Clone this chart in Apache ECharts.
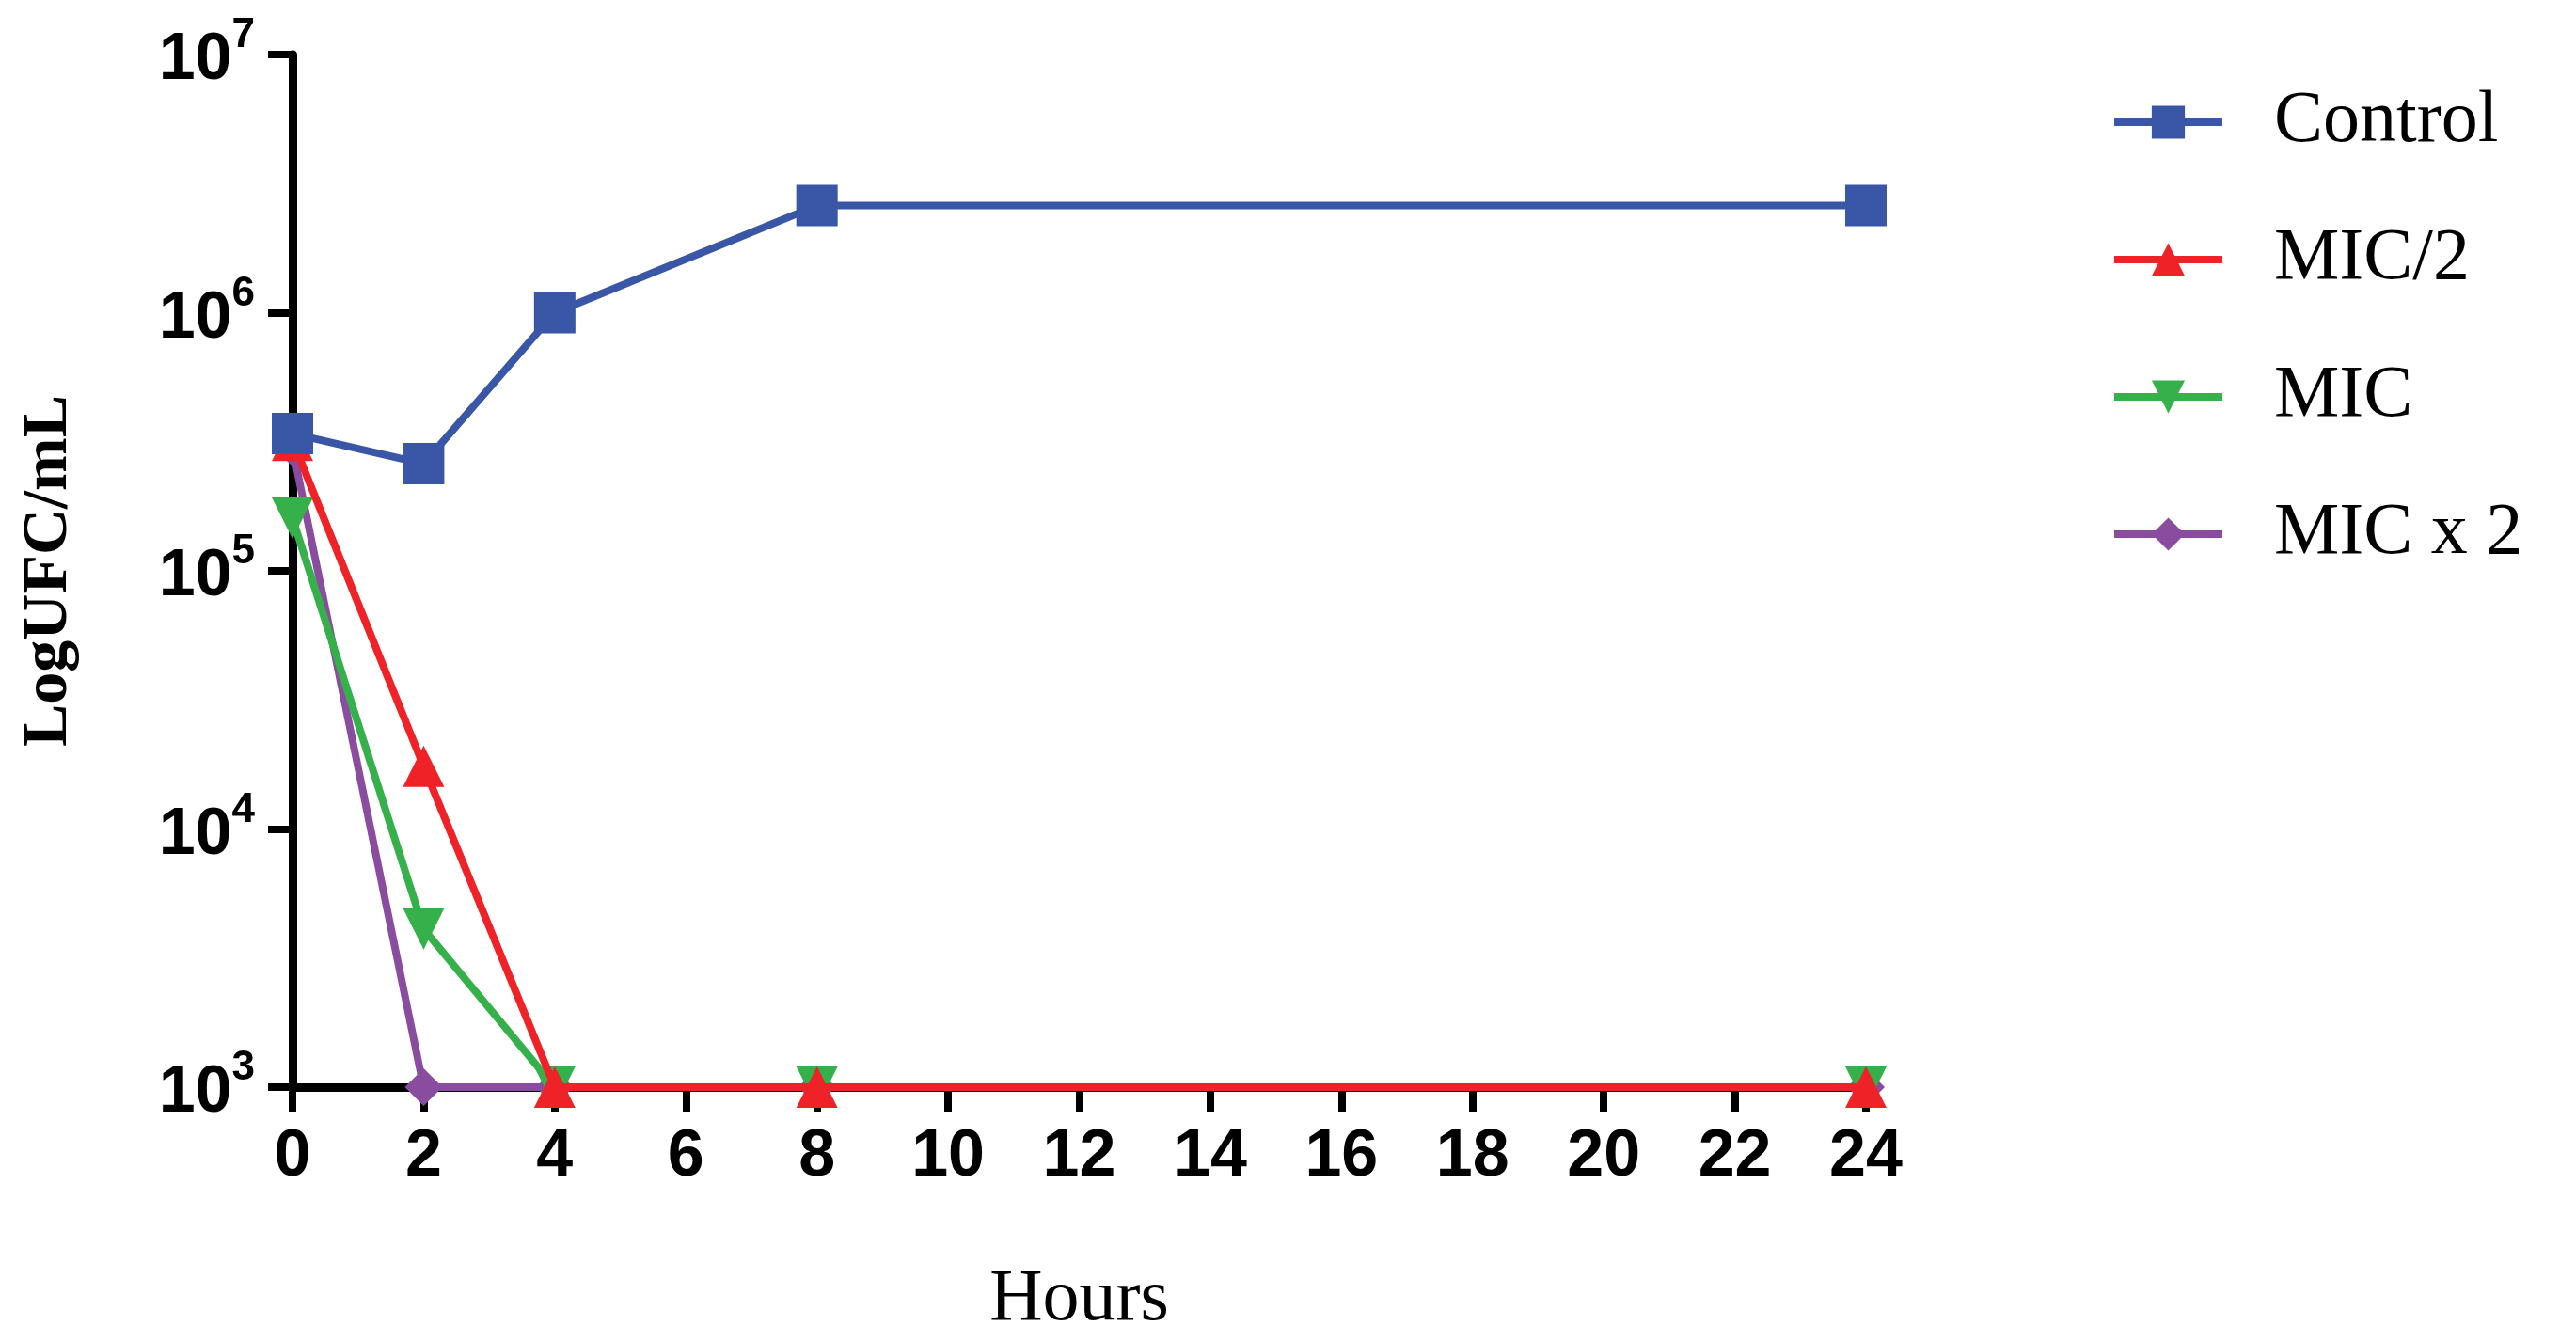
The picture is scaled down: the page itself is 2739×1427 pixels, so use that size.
<!DOCTYPE html>
<html><head><meta charset="utf-8">
<script src="https://cdn.jsdelivr.net/npm/echarts@6/dist/echarts.min.js"></script>
<style>html,body{margin:0;padding:0;background:#fff}#c{width:2739px;height:1427px}</style>
</head><body><div id="c"></div>
<script>
const hours = [0, 2, 4, 8, 24];
const xTicks = [0,2,4,6,8,10,12,14,16,18,20,22,24];
const yTicks = [1e3, 1e4, 1e5, 1e6, 1e7];
const control = [3.4e5, 2.6e5, 1.0e6, 2.6e6, 2.6e6];
const micHalf = [3.2e5, 1.75e4, 1000, 1000, 1000];
const mic = [1.6e5, 4.1e3, 1000, 1000, 1000];
const micX2 = [3.0e5, 1000, 1000, 1000, 1000];
const names = ['Control', 'MIC/2', 'MIC', 'MIC x 2'];
const colors = ['#3a56a6', '#ee2227', '#35b04a', '#8a4c9e'];
const symbols = ['rect', 'triangle', 'path://M0,0 L10,0 L5,10 Z', 'diamond'];
const allData = [control, micHalf, mic, micX2];

const chart = echarts.init(document.getElementById('c'));
chart.setOption({
  animation: false,
  grid: {left: 311, right: 755, top: 58, bottom: 243, containLabel: false},
  legend: {
    data: names, orient: 'vertical', left: 2239, top: 86, itemGap: 68,
    itemWidth: 115, itemHeight: 44,
    lineStyle: {width: 8},
    textStyle: {fontFamily: 'Liberation Serif', fontSize: 78, color: '#000', padding: [0,0,0,50]}
  },
  xAxis: {
    type: 'value', min: 0, max: 24, interval: 2,
    name: 'Hours', nameLocation: 'middle', nameGap: 188,
    nameTextStyle: {fontFamily: 'Liberation Serif', fontSize: 78, color: '#000'},
    axisLine: {onZero: false, lineStyle: {color: '#000', width: 9}},
    axisTick: {show: true, length: 26, lineStyle: {color: '#000', width: 8}},
    axisLabel: {fontFamily: 'Liberation Sans', fontWeight: 'bold', fontSize: 70, color: '#000', margin: 40,
      formatter: v => xTicks.includes(v) ? String(v) : ''},
    splitLine: {show: false}
  },
  yAxis: {
    type: 'log', logBase: 10, min: yTicks[0], max: yTicks[yTicks.length-1],
    name: 'LogUFC/mL', nameLocation: 'middle', nameGap: 225, nameRotate: 90,
    nameTextStyle: {fontFamily: 'Liberation Serif', fontWeight: 'bold', fontSize: 68, color: '#000'},
    axisLine: {show: true, lineStyle: {color: '#000', width: 9}},
    axisTick: {show: true, length: 26, lineStyle: {color: '#000', width: 8}},
    minorTick: {show: false},
    axisLabel: {margin: 40, color: '#000',
      formatter: v => '{b|10}{s|' + Math.round(Math.log10(v)) + '}',
      rich: {
        b: {fontFamily: 'Liberation Sans', fontWeight: 'bold', fontSize: 70, color: '#000', verticalAlign: 'bottom'},
        s: {fontFamily: 'Liberation Sans', fontWeight: 'bold', fontSize: 44, color: '#000', verticalAlign: 'top', padding: [0,0,40,0]}
      }},
    splitLine: {show: false}
  },
  series: names.map((n, i) => ({
    name: n, type: 'line', z: 10 - i,
    data: hours.map((h, j) => [h, allData[i][j]]),
    symbol: symbols[i], symbolSize: i === 3 ? 40 : 44,
    lineStyle: {color: colors[i], width: 8},
    itemStyle: {color: colors[i]}
  }))
});
</script></body></html>
